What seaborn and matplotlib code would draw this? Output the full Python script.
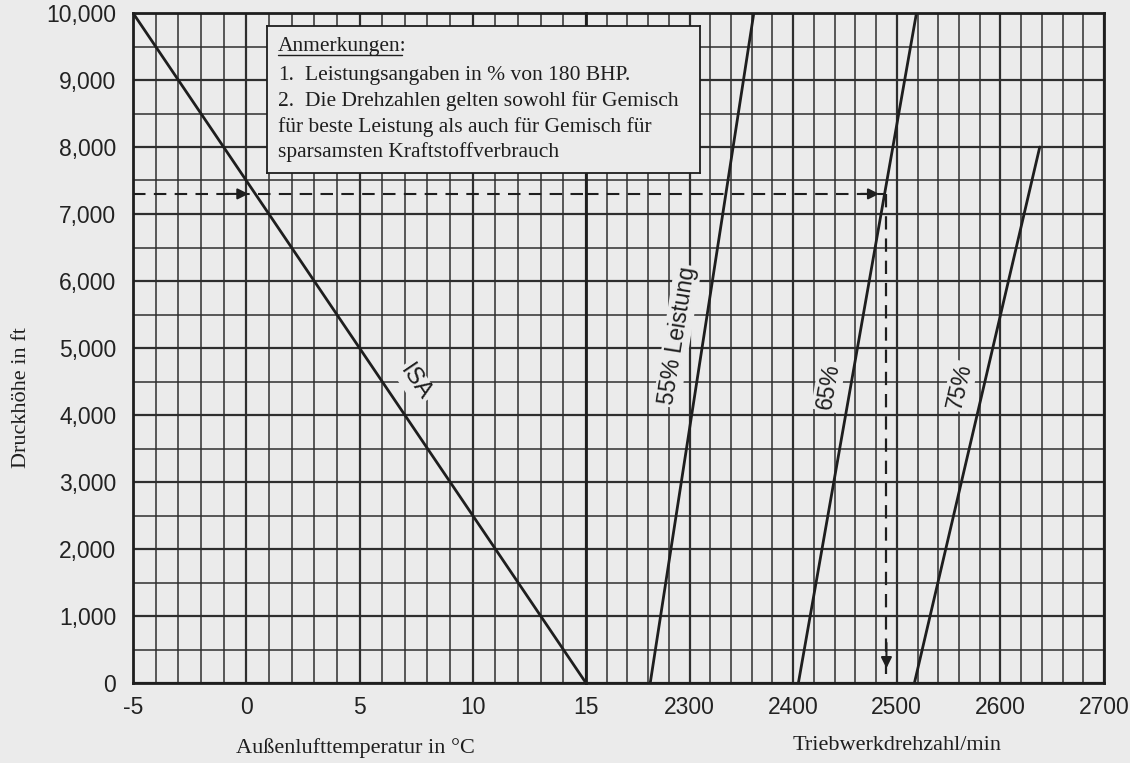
import matplotlib
matplotlib.use("Agg")
import matplotlib.pyplot as plt
from matplotlib.ticker import MultipleLocator, FuncFormatter
import seaborn as sns
import pandas as pd

# ---------------- data ----------------
isa_temp = [-5, 15]
isa_alt = [10000, 0]

rpm_55 = [2262, 2362]
alt_55 = [0, 10000]
rpm_65 = [2405, 2519]
alt_65 = [0, 10000]
rpm_75 = [2517, 2638]
alt_75 = [0, 8000]

example_alt = 7300
example_rpm = 2490

temp_ticks = [-5, 0, 5, 10, 15]
rpm_ticks = [2200, 2300, 2400, 2500, 2600, 2700]
rpm_tick_labels = ["", "2300", "2400", "2500", "2600", "2700"]
alt_ticks = list(range(0, 10001, 1000))

note_title = "Anmerkungen:"
note_lines = [
    ("1.", "Leistungsangaben in % von 180 BHP."),
    ("2.", "Die Drehzahlen gelten sowohl für Gemisch"),
    ("", "für beste Leistung als auch für Gemisch für"),
    ("", "sparsamsten Kraftstoffverbrauch"),
]

# ---------------- style ----------------
sns.set_theme(style="white")
BG = "#ebebeb"
INK = "#1e1e1e"
GRID = "#2e2e2e"
SANS = ["Liberation Sans", "DejaVu Sans"]
SERIF = ["Liberation Serif", "DejaVu Serif"]
plt.rcParams["font.family"] = SANS
plt.rcParams["axes.unicode_minus"] = False

W, H = 1130, 763
fig = plt.figure(figsize=(W / 100, H / 100), dpi=100, facecolor=BG)

L, R, MID = 133, 1104, 586
TOP, BOT = 13, 683


def fx(px):
    return px / W


def fy(py):
    return 1 - py / H


ax1 = fig.add_axes([fx(L), fy(BOT), fx(MID - L), (BOT - TOP) / H])
ax2 = fig.add_axes([fx(MID), fy(BOT), fx(R - MID), (BOT - TOP) / H])

for ax in (ax1, ax2):
    ax.set_facecolor(BG)
    ax.set_ylim(0, 10000)
    ax.yaxis.set_major_locator(MultipleLocator(1000))
    ax.yaxis.set_minor_locator(MultipleLocator(500))
    ax.grid(True, which="major", color=GRID, lw=1.6, zorder=1)
    ax.grid(True, which="minor", color=GRID, lw=1.1, zorder=1)
    ax.set_axisbelow(True)
    for s in ax.spines.values():
        s.set_color(INK)
        s.set_linewidth(2.0)
    ax.tick_params(which="both", length=0, labelsize=16.5, colors="#222222")

ax1.set_xlim(-5, 15)
ax1.set_xticks(temp_ticks)
ax1.xaxis.set_minor_locator(MultipleLocator(1))
ax1.set_yticks(alt_ticks)
ax1.yaxis.set_major_formatter(FuncFormatter(lambda v, p: f"{int(v):,}"))
ax1.tick_params(axis="x", pad=9)
ax1.tick_params(axis="y", pad=12)

ax2.set_xlim(2200, 2700)
ax2.set_xticks(rpm_ticks)
ax2.set_xticklabels(rpm_tick_labels)
ax2.xaxis.set_minor_locator(MultipleLocator(20))
ax2.tick_params(axis="x", pad=9)
ax2.tick_params(axis="y", labelleft=False)

# ---------------- lines ----------------
isa_df = pd.DataFrame({"t": isa_temp, "h": isa_alt})
sns.lineplot(data=isa_df, x="t", y="h", ax=ax1, color=INK, lw=2.0,
             sort=False, estimator=None, zorder=3)

for rpm, alt in ((rpm_55, alt_55), (rpm_65, alt_65), (rpm_75, alt_75)):
    d = pd.DataFrame({"n": rpm, "h": alt})
    sns.lineplot(data=d, x="n", y="h", ax=ax2, color=INK, lw=2.0,
                 sort=False, estimator=None, zorder=3)

for ax in (ax1, ax2):
    ax.set_xlabel("")
    ax.set_ylabel("")

# example dashed path
dash = (0, (6, 4))
ax1.plot([-5, 15], [example_alt, example_alt], color=INK, lw=1.5, ls=dash, zorder=4)
ax2.plot([2200, example_rpm], [example_alt, example_alt], color=INK, lw=1.5, ls=dash, zorder=4)
ax2.plot([example_rpm, example_rpm], [example_alt, 0], color=INK, lw=1.6, ls=dash, zorder=4)

arrow_kw = dict(arrowstyle="-|>", color=INK, lw=1.5, mutation_scale=16, shrinkA=0, shrinkB=0)
ax1.annotate("", xy=(0.1, example_alt), xytext=(-0.9, example_alt), arrowprops=arrow_kw, zorder=5)
ax2.annotate("", xy=(example_rpm - 7, example_alt), xytext=(example_rpm - 25, example_alt),
             arrowprops=arrow_kw, zorder=5)
ax2.annotate("", xy=(example_rpm, 220), xytext=(example_rpm, 600), arrowprops=arrow_kw, zorder=5)

# line labels
lab_box = dict(facecolor=BG, edgecolor="none", pad=1.5)
ax1.text(7.45, 4480, "ISA", rotation=-56, ha="center", va="center", fontsize=17,
         color=INK, bbox=lab_box, zorder=6, rotation_mode="anchor")
ax2.text(2288, 5180, "55% Leistung", rotation=81, ha="center", va="center", fontsize=16.5,
         color=INK, bbox=lab_box, zorder=6, rotation_mode="anchor")
ax2.text(2434, 4430, "65%", rotation=80, ha="center", va="center", fontsize=16.5,
         color=INK, bbox=lab_box, zorder=6, rotation_mode="anchor")
ax2.text(2561, 4430, "75%", rotation=77, ha="center", va="center", fontsize=16.5,
         color=INK, bbox=lab_box, zorder=6, rotation_mode="anchor")

# axis labels
fig.text(fx(355), fy(748), "Außenlufttemperatur in °C", ha="center", va="center",
         fontsize=16, family=SERIF, color=INK)
fig.text(fx(897), fy(745), "Triebwerkdrehzahl/min", ha="center", va="center",
         fontsize=16, family=SERIF, color=INK)
fig.text(fx(22), fy(398), "Druckhöhe in ft", ha="center", va="center", rotation=90,
         fontsize=16, family=SERIF, color=INK)

# notes box
bx0, bx1, by0, by1 = 267, 700, 26, 173
box = fig.add_axes([fx(bx0), fy(by1), fx(bx1 - bx0), (by1 - by0) / H], zorder=10)
box.set_facecolor(BG)
box.set_xticks([])
box.set_yticks([])
for s in box.spines.values():
    s.set_color(INK)
    s.set_linewidth(1.3)
box.set_xlim(bx0, bx1)
box.set_ylim(by1, by0)

tx = 278
box.text(tx, 51, note_title, fontsize=15.5, family=SERIF, color=INK, va="baseline")
box.plot([tx, tx + 124], [55, 55], color=INK, lw=1.0)
baselines = [80, 106, 132, 157]
for (num, txt), yb in zip(note_lines, baselines):
    if num:
        box.text(tx, yb, num, fontsize=15.5, family=SERIF, color=INK, va="baseline")
        box.text(305, yb, txt, fontsize=15.5, family=SERIF, color=INK, va="baseline")
    else:
        box.text(tx, yb, txt, fontsize=15.5, family=SERIF, color=INK, va="baseline")

fig.savefig("out.png", dpi=100, facecolor=BG)
